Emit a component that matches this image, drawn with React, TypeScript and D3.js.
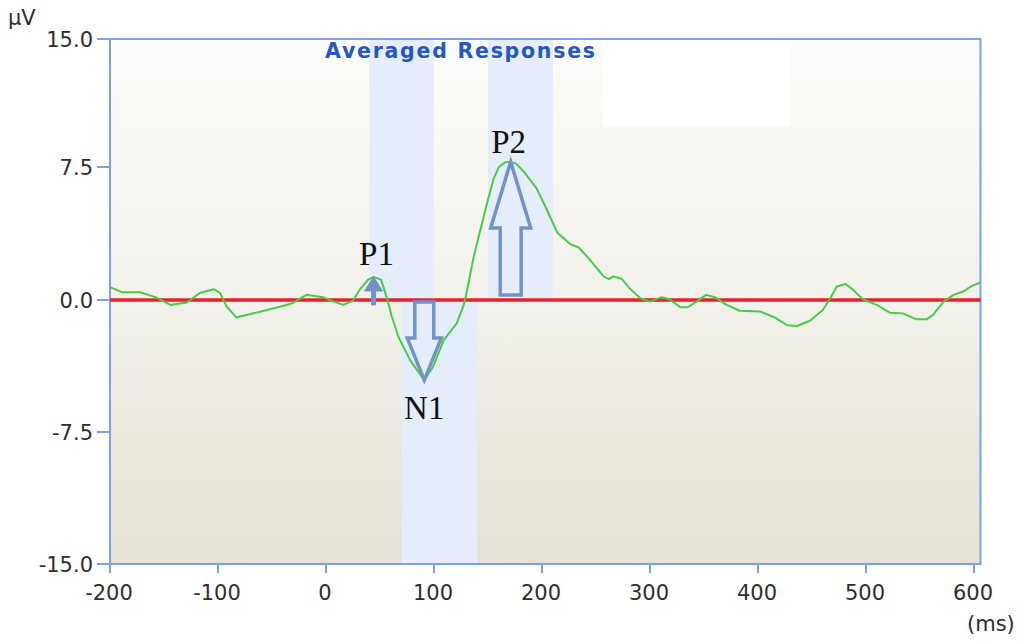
import React from "react";
import * as d3 from "d3";

// Averaged evoked response (µV) sampled over time (ms)
const timesMs = [
  -200, -189, -172, -158, -144, -129, -117, -104, -98, -92, -83, -70, -52, -33, -18, -3, 7, 16, 25, 31,
  39, 44, 51, 56, 61, 67, 78, 91, 99, 109, 121, 127, 129, 133, 137, 141, 146, 151, 155, 160,
  166, 171, 176, 183, 195, 204, 214, 226, 234, 244, 257, 262, 266, 274, 281, 291, 300, 311, 318, 328,
  335, 343, 352, 360, 371, 383, 402, 414, 427, 436, 448, 460, 467, 473, 481, 488, 497, 510, 522, 534,
  547, 556, 562, 572, 581, 590, 598, 606,
];
const valuesUv = [
  0.73, 0.44, 0.44, 0.16, -0.28, -0.14, 0.39, 0.61, 0.39, -0.38, -0.99, -0.8, -0.53, -0.23, 0.29, 0.16, -0.09, -0.28, -0.04, 0.57,
  1.15, 1.3, 1.15, 0.19, -0.95, -2.09, -3.43, -4.55, -3.81, -2.28, -1.33, -0.38, 0.06, 1.3, 2.5, 3.5, 4.7, 5.9, 6.8, 7.5,
  7.78, 7.8, 7.7, 7.25, 6.29, 5.16, 3.81, 3.16, 2.96, 2.29, 1.33, 1.18, 1.33, 1.18, 0.67, 0.1, -0.09, 0.16, 0.04, -0.41,
  -0.41, -0.09, 0.29, 0.16, -0.28, -0.61, -0.66, -0.95, -1.43, -1.48, -1.18, -0.57, 0.1, 0.76, 0.9, 0.57, 0.04, -0.28, -0.72, -0.76,
  -1.1, -1.1, -0.85, -0.09, 0.29, 0.48, 0.8, 0.99,
];

// Component latency windows (ms); sign says which half of the plot is shaded
const windowStart = [40, 70, 150];
const windowEnd = [100, 140, 210];
const windowSign = [1, -1, 1];

// Peak components
const peakNames = ["P1", "N1", "P2"];
const peakTimes = [44, 91, 171];
const peakValues = [1.3, -4.55, 7.8];

const xTicks = [-200, -100, 0, 100, 200, 300, 400, 500, 600];
const yTicks = [15, 7.5, 0, -7.5, -15];

const W = 1023;
const H = 642;
const left = 110;
const right = 980.5;
const top = 39;
const bottom = 564;

const x = d3.scaleLinear().domain([-200, 606]).range([left, right]);
const y = d3.scaleLinear().domain([-15, 0, 7.5, 15]).range([bottom, 300, 167, top]);

const frameColor = "#7f9fe6";
const arrowColor = "#7393c6";
const tickFont = "'DejaVu Sans', Verdana, sans-serif";

function blockArrow(cx: number, y0: number, y1: number, shaftHalf: number, headHalf: number, headLen: number) {
  const dir = y1 < y0 ? 1 : -1; // 1 = pointing up
  const yb = y1 + dir * headLen;
  const p = d3.path();
  p.moveTo(cx - shaftHalf, y0);
  p.lineTo(cx - shaftHalf, yb);
  p.lineTo(cx - headHalf, yb);
  p.lineTo(cx, y1);
  p.lineTo(cx + headHalf, yb);
  p.lineTo(cx + shaftHalf, yb);
  p.lineTo(cx + shaftHalf, y0);
  p.closePath();
  return p.toString();
}

export default function App() {
  const points: [number, number][] = timesMs.map((t, i) => [t, valuesUv[i]]);
  const line = d3
    .line<[number, number]>()
    .x((d) => x(d[0]))
    .y((d) => y(d[1]));

  const y0 = y(0);

  // Arrow styling per component
  const arrowStyle = [
    { solid: true, base: 5, shaftHalf: 2, headHalf: 9, headLen: 14, labelDx: 3, labelDy: -12 },
    { solid: false, base: 2, shaftHalf: 9.5, headHalf: 17, headLen: 42, labelDx: 0, labelDy: 39 },
    { solid: false, base: -5, shaftHalf: 10.5, headHalf: 20, headLen: 66, labelDx: -2, labelDy: -9 },
  ];

  return (
    <svg
      width={W}
      height={H}
      style={{ position: "absolute", left: 0, top: 0, background: "#ffffff" }}
    >
      <defs>
        <linearGradient id="plotBg" x1="0" y1="0" x2="0" y2="1">
          <stop offset="0%" stopColor="#fcfcfa" />
          <stop offset="45%" stopColor="#f3f2ed" />
          <stop offset="100%" stopColor="#e5e2d4" />
        </linearGradient>
      </defs>

      <rect x={left} y={top} width={right - left} height={bottom - top} fill="url(#plotBg)" />
      <rect x={603} y={top} width={187} height={88} fill="#ffffff" />

      {windowStart.map((s, i) => (
        <rect
          key={i}
          x={x(s)}
          width={x(windowEnd[i]) - x(s)}
          y={windowSign[i] > 0 ? top : y0}
          height={windowSign[i] > 0 ? y0 - top : bottom - y0}
          fill="#e5ecfa"
        />
      ))}

      <text
        x={325}
        y={58}
        fontFamily={tickFont}
        fontWeight="bold"
        fontSize={20.5}
        fill="#2457c0"
        textLength={270}
        lengthAdjust="spacing"
      >
        Averaged Responses
      </text>

      {/* frame */}
      <rect x={left} y={top} width={right - left} height={bottom - top} fill="none" stroke={frameColor} strokeWidth={2} />

      {/* y axis ticks and labels */}
      {yTicks.map((v) => (
        <g key={v}>
          <line x1={97} x2={left} y1={y(v)} y2={y(v)} stroke={frameColor} strokeWidth={2} />
          <text x={93} y={y(v) + 8} textAnchor="end" fontFamily={tickFont} fontSize={21} fill="#2e2e2e">
            {v.toFixed(1)}
          </text>
        </g>
      ))}
      <text x={8} y={25} fontFamily={tickFont} fontSize={21} fill="#2e2e2e">
        µV
      </text>

      {/* x axis ticks and labels */}
      {xTicks.map((t) => (
        <g key={t}>
          <line x1={x(t)} x2={x(t)} y1={bottom} y2={573} stroke={frameColor} strokeWidth={2} />
          <text x={x(t) - 1} y={600} textAnchor="middle" fontFamily={tickFont} fontSize={21} fill="#2e2e2e">
            {t}
          </text>
        </g>
      ))}
      <text x={967} y={631} fontFamily={tickFont} fontSize={21} fill="#2e2e2e">
        (ms)
      </text>

      {/* baseline */}
      <line x1={left} x2={right} y1={y0} y2={y0} stroke="#e8212b" strokeWidth={3.5} />

      {/* response */}
      <path d={line(points) ?? ""} fill="none" stroke="#48cc48" strokeWidth={2} strokeLinejoin="round" />

      {/* peak arrows and labels */}
      {peakNames.map((name, i) => {
        const st = arrowStyle[i];
        const cx = x(peakTimes[i]);
        const tipY = y(peakValues[i]);
        const baseY = y0 + st.base;
        const d = blockArrow(cx, baseY, tipY, st.shaftHalf, st.headHalf, st.headLen);
        return (
          <g key={name}>
            <path
              d={d}
              fill={st.solid ? arrowColor : "none"}
              stroke={arrowColor}
              strokeWidth={st.solid ? 1 : 3.5}
              strokeLinejoin="miter"
            />
            <text
              x={cx + st.labelDx}
              y={tipY + st.labelDy}
              textAnchor="middle"
              fontFamily="'Liberation Serif', 'Times New Roman', serif"
              fontSize={33}
              fill="#111"
            >
              {name}
            </text>
          </g>
        );
      })}
    </svg>
  );
}
